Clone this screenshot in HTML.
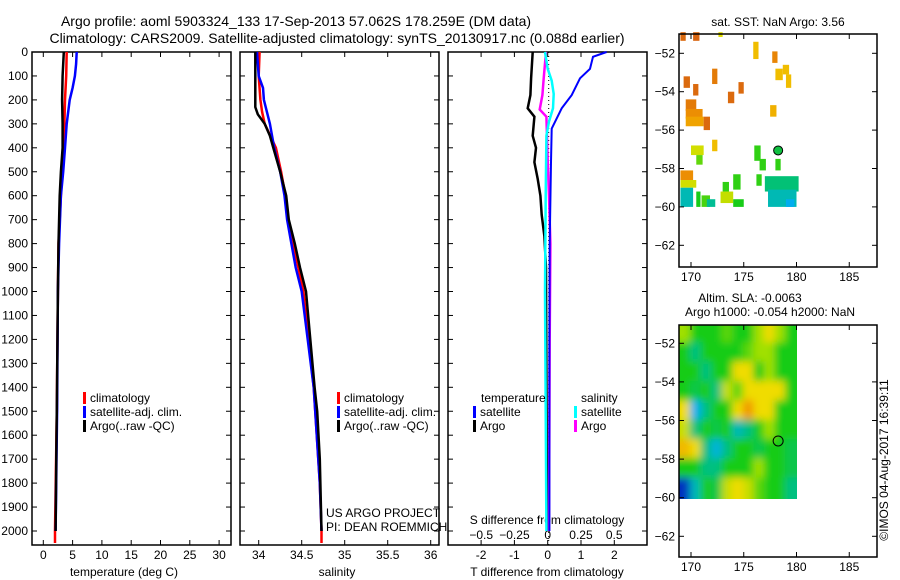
<!DOCTYPE html>
<html><head><meta charset="utf-8"><style>
html,body{margin:0;padding:0;background:#fff;}
svg{display:block;font-family:"Liberation Sans",sans-serif;}
text{font-size:12px;fill:#000;}
</style></head><body>
<svg id="chart" width="900" height="580" viewBox="0 0 900 580" xmlns="http://www.w3.org/2000/svg">
<defs>
<filter id="blur" x="0" y="0" width="1" height="1"><feGaussianBlur stdDeviation="4"/></filter>
<clipPath id="slaclip"><rect x="679" y="325" width="118" height="174"/></clipPath>
</defs>
<text x="296" y="26" text-anchor="middle" style="font-size:14px">Argo profile: aoml 5903324_133 17-Sep-2013 57.062S 178.259E (DM data)</text>
<text x="337" y="43" text-anchor="middle" style="font-size:14px">Climatology: CARS2009. Satellite-adjusted climatology: synTS_20130917.nc (0.088d earlier)</text>
<g id="g"></g>
</svg>
<script>
// ---- profile data (depth in m) ----
const tempClimDepth = [0,100,200,300,400,500,600,700,800,900,1000,1500,2000,2050];
const tempClimVal   = [4.0,3.9,3.7,3.6,3.4,3.2,3.0,2.8,2.6,2.55,2.5,2.3,2.0,2.0];
const tempSatDepth  = [0,50,100,150,200,300,400,500,600,700,800,1000,1500,2000];
const tempSatVal    = [5.7,5.6,5.4,5.0,4.5,4.0,3.7,3.4,3.0,2.85,2.7,2.5,2.35,2.1];
const tempArgoDepth = [0,100,200,300,400,500,600,700,800,1000,1500,1600,2000];
const tempArgoVal   = [3.5,3.3,3.2,3.3,3.3,3.0,2.8,2.7,2.6,2.5,2.3,2.25,2.1];

const salClimDepth = [0,100,200,250,300,400,500,600,700,800,900,1000,1400,1800,2000,2050];
const salClimVal   = [34.01,34.0,34.02,34.04,34.07,34.2,34.26,34.31,34.34,34.40,34.46,34.52,34.64,34.71,34.73,34.73];
const salSatDepth  = [0,100,150,200,300,400,500,600,700,800,900,1000,1400,1800,2000];
const salSatVal    = [33.98,34.0,34.05,34.06,34.13,34.18,34.25,34.3,34.33,34.38,34.43,34.5,34.64,34.71,34.73];
const salArgoDepth = [0,230,260,300,350,400,500,600,700,800,900,1000,1400,1500,1700,2000];
const salArgoVal   = [33.96,33.96,33.99,34.07,34.13,34.17,34.25,34.32,34.35,34.42,34.48,34.55,34.65,34.68,34.71,34.73];

const dTSatDepth  = [0,20,70,110,180,235,320,460,800,1200,2000];
const dTSatVal    = [1.77,1.36,1.27,0.97,0.72,0.42,0.12,0.1,0.06,0.05,0.05];
const dTArgoDepth = [0,110,180,235,270,350,400,460,530,600,680,770,900,2000];
const dTArgoVal   = [-0.45,-0.5,-0.52,-0.6,-0.4,-0.45,-0.35,-0.4,-0.3,-0.22,-0.18,-0.1,-0.05,-0.02];
const dSArgoDepth = [0,110,180,240,270,450,600,800,1200,2000];
const dSArgoVal   = [-0.013,-0.03,-0.04,-0.06,-0.01,0.0,0.01,0.02,0.015,0.01];
const dSSatDepth  = [0,70,120,175,235,290,350,600,1000,2000];
const dSSatVal    = [-0.02,0,0.03,0.045,0.04,0.01,-0.01,-0.015,-0.02,-0.01];

// ---- map data ----
// SST cells: [lonMin, latTop, dLon, dLat, sstValue]
const sstCells = [
 [169,-50.9,0.5,0.45,7.6],[170.2,-50.9,0.6,0.45,7.8],[172.6,-50.9,0.4,0.25,5.2],
 [175.9,-51.4,0.5,0.9,6.0],[177.7,-51.9,0.5,0.6,7.0],
 [178,-52.8,0.7,0.6,6.0],[178.7,-52.6,0.6,0.5,6.0],[179,-53.1,0.5,0.7,6.0],
 [169.3,-53.2,0.6,0.6,7.6],[170.2,-53.6,0.5,0.6,7.6],[172,-52.8,0.5,0.8,7.2],
 [174.5,-53.5,0.5,0.6,7.6],[173.5,-54,0.6,0.6,7.6],
 [169.5,-54.4,1.0,0.6,7.2],[169.5,-54.9,1.6,0.5,6.8],[169.5,-55.3,1.7,0.5,6.4],[171.2,-55.3,0.6,0.7,7.6],
 [177.5,-54.7,0.6,0.6,6.2],[172.0,-56.5,0.5,0.6,6.0],
 [170,-56.8,1.2,0.5,5.0],[170.5,-57.3,0.6,0.5,3.8],[176,-56.8,0.6,0.8,3.4],[176.5,-57.5,0.6,0.6,3.4],[178,-57.5,0.5,0.6,3.4],
 [169,-58.1,1.2,0.5,6.8],[169,-58.6,1.5,0.4,5.0],[169,-59,1.2,1.0,2.6],[170.5,-59.2,0.4,0.8,3.2],[171,-59.4,0.8,0.6,3.6],
 [174,-58.3,0.7,0.8,3.4],[173,-58.7,0.6,0.5,3.4],[172.8,-59.2,1.2,0.6,4.8],[171.5,-59.6,0.8,0.4,2.8],[174,-59.6,1.0,0.4,3.2],
 [176.2,-58.3,0.5,0.6,3.4],[177,-58.4,3.2,0.8,3.0],[177.3,-59.1,2.7,0.9,2.6],[179,-59.6,0.8,0.4,2.2]
];
// SLA grid rows lat -51..-60, cols lon 169..180 (value index 0 blue .. 6 orange)
const slaRows = [
 [4,3,3,3,3.5,3,3,4,5,4,3],
 [3,2,3,3,3,3,3.5,4,4,3,3],
 [3,3,2,3,3,5,5,3,4,3,3],
 [3,2.5,3,2,4.5,3.5,5,5,5,5,3],
 [5,1,2,3,3,5,6,5,5,3,3],
 [4.5,2,3,2.5,3,1.5,2,3,4,3,3],
 [5.5,5,2,1.2,2,3,3,2.5,3,3,2.5],
 [3,3,2,2,3,3,3,4,3,3,2.5],
 [0,1.5,3,2.5,4.5,5,4.5,3.5,3,3,2]
];
const argoLon = [178.26];
const argoLat = [-57.06];

const g = document.getElementById('g');
const NS = 'http://www.w3.org/2000/svg';
function mk(tag, at, parent){ const e=document.createElementNS(NS,tag); for(const k in at) e.setAttribute(k,at[k]); (parent||g).appendChild(e); return e; }

const yD = d => 52 + d*0.2395;
const PT = 52, PB = 545;
const panels = [
 {x0:32,x1:231,name:'temperature-panel'},
 {x0:240,x1:439,name:'salinity-panel'},
 {x0:448,x1:647,name:'difference-panel'}];
const xT = t => 43.3 + t*5.86;
const xS = s => 258.7 + (s-34)*86;
const xdT = v => 547.7 + v*33.3;
const xdS = v => 547.7 + v*133;

function line(xs, ys, fx, color, name, w){
  const pts = xs.map((d,i)=> fx(ys[i]).toFixed(1)+','+yD(d).toFixed(1)).join(' ');
  const p = mk('polyline',{points:pts,fill:'none',stroke:color,'stroke-width':w||2.5});
  
  
}

panels.forEach((p,pi)=>{
  const r = mk('rect',{x:p.x0,y:PT,width:p.x1-p.x0,height:PB-PT,fill:'none',stroke:'#000','stroke-width':1.5});
  
  
  for(let d=0; d<=2000; d+=100){
    mk('line',{x1:p.x0,x2:p.x0+5,y1:yD(d),y2:yD(d),stroke:'#000'});
    mk('line',{x1:p.x1-5,x2:p.x1,y1:yD(d),y2:yD(d),stroke:'#000'});
  }
});
for(let d=0; d<=2000; d+=100){
  const t = mk('text',{x:28,y:yD(d)+4,'text-anchor':'end'}); t.textContent=d;
  
  
}
function xticks(vals, fx, labels, yl, top){
  vals.forEach((v,i)=>{
    const x = fx(v);
    mk('line',{x1:x,x2:x,y1:PB-5,y2:PB,stroke:'#000'});
    if(top) mk('line',{x1:x,x2:x,y1:PT,y2:PT+5,stroke:'#000'});
    const t = mk('text',{x:x,y:yl,'text-anchor':'middle'}); t.textContent=labels[i];
    
    
  });
}
const tTicks=[0,5,10,15,20,25,30];
xticks(tTicks,xT,tTicks.map(String),559,true);
const sTicks=[34,34.5,35,35.5,36];
xticks(sTicks,xS,sTicks.map(String),559,true);
const dTTicks=[-2,-1,0,1,2];
xticks(dTTicks,xdT,dTTicks.map(String),559,true);
const dSTicks=[-0.5,-0.25,0,0.25,0.5];
dSTicks.forEach(v=>{const t=mk('text',{x:xdS(v),y:539,'text-anchor':'middle'});t.textContent=(v<0?'\u2212':'')+Math.abs(v);
  
  });

function txt(x,y,s,name,anchor,extra){const t=mk('text',Object.assign({x:x,y:y,'text-anchor':anchor||'start'},extra||{}));t.textContent=s;
  
  return t;}
txt(124,576,'temperature (deg C)','temperature-axis-title','middle');
txt(337,576,'salinity','salinity-axis-title','middle');
txt(547,576,'T difference from climatology','t-diff-axis-title','middle');
txt(547,524,'S difference from climatology','s-diff-axis-title','middle');

mk('line',{x1:xdT(0)+1,x2:xdT(0)+1,y1:PT,y2:PB,stroke:'#000','stroke-dasharray':'1,3'});

line(tempClimDepth,tempClimVal,xT,'#ff0000','temp-climatology-line');
line(tempSatDepth,tempSatVal,xT,'#0000ff','temp-satellite-line');
line(tempArgoDepth,tempArgoVal,xT,'#000000','temp-argo-line');
line(salClimDepth,salClimVal,xS,'#ff0000','sal-climatology-line');
line(salSatDepth,salSatVal,xS,'#0000ff','sal-satellite-line');
line(salArgoDepth,salArgoVal,xS,'#000000','sal-argo-line');
line(dTArgoDepth,dTArgoVal,xdT,'#000000','t-diff-argo-line');
line(dSArgoDepth,dSArgoVal,xdS,'#ff00ff','s-diff-argo-line');
line(dSSatDepth,dSSatVal,xdS,'#00ffff','s-diff-satellite-line');
line(dTSatDepth,dTSatVal,xdT,'#0000ff','t-diff-satellite-line',2);

function leg(x,y,c,s,name){mk('rect',{x:x,y:y-10,width:3,height:12,fill:c});txt(x+7,y,s,name);}
leg(83,402,'#ff0000','climatology','legend-climatology');
leg(83,416,'#0000ff','satellite-adj. clim.','legend-satellite');
leg(83,430,'#000000','Argo(..raw -QC)','legend-argo');
leg(337,402,'#ff0000','climatology','legend-climatology-2');
leg(337,416,'#0000ff','satellite-adj. clim.','legend-satellite-2');
leg(337,430,'#000000','Argo(..raw -QC)','legend-argo-2');
txt(481,402,'temperature','legend-temperature-heading');
txt(581,402,'salinity','legend-salinity-heading');
leg(473,416,'#0000ff','satellite','legend-t-satellite');
leg(473,430,'#000000','Argo','legend-t-argo');
leg(574,416,'#00ffff','satellite','legend-s-satellite');
leg(574,430,'#ff00ff','Argo','legend-s-argo');
txt(326,517,'US ARGO PROJECT','project-label');
txt(326,531,'PI: DEAN ROEMMICH','pi-label');

// ---- maps ----
function ramp(v){
  const cs=[[0,48,192],[0,176,240],[0,192,128],[24,204,24],[160,224,0],[240,220,0],[240,150,0],[216,100,16]];
  v=Math.max(0,Math.min(7,v)); const i=Math.min(6,Math.floor(v)), f=v-i;
  const a=cs[i],b=cs[i+1];
  return 'rgb('+a.map((c,k)=>Math.round(c+(b[k]-c)*f)).join(',')+')';
}
const sstToIdx = s => s<3.2 ? (s-1.5)*1.4 : (s<5.5 ? 3+(s-3.2)*0.9 : 5+(s-5.5)*0.9);
function mapAxes(top,name,lonX,latY){
  const X0=679,X1=877, bottom = top===34?267:557;
  const r=mk('rect',{x:X0,y:top,width:X1-X0,height:bottom-top,fill:'none',stroke:'#000','stroke-width':1.5});
  
  
  [170,175,180,185].forEach(l=>{const x=lonX(l);
    mk('line',{x1:x,x2:x,y1:bottom-5,y2:bottom,stroke:'#000'});mk('line',{x1:x,x2:x,y1:top,y2:top+5,stroke:'#000'});
    txt(x,bottom+14,String(l),name+'-lon-label','middle');});
  [-52,-54,-56,-58,-60,-62].forEach(l=>{const y=latY(l);
    mk('line',{x1:X0,x2:X0+5,y1:y,y2:y,stroke:'#000'});mk('line',{x1:X1-5,x2:X1,y1:y,y2:y,stroke:'#000'});
    txt(675,y+4,'\u2212'+Math.abs(l),name+'-lat-label','end');});
}
const lonX = l => 691 + (l-170)*10.55;
const latY1 = l => 53.3 + (-52-l)*19.2;
const latY2 = l => 343.3 + (-52-l)*19.3;

sstCells.forEach(c=>{
  const x0=lonX(c[0]), x1=lonX(c[0]+c[2]), y0=latY1(c[1]), y1=latY1(c[1]-c[3]);
  const r=mk('rect',{x:x0,y:y0,width:x1-x0,height:y1-y0,fill:ramp(sstToIdx(c[4]))});
  
  
});
mapAxes(34,'sst-map',lonX,latY1);
argoLon.forEach((lo,i)=>{
  const c=mk('circle',{cx:lonX(lo),cy:latY1(argoLat[i]),r:4.5,fill:'#10c040',stroke:'#000','stroke-width':1});
  
  
});
txt(778,26,'sat. SST: NaN Argo: 3.56','sst-map-title','middle');

const slaG = mk('g',{'clip-path':'url(#slaclip)'});
const slaB = mk('g',{filter:'url(#blur)'},slaG);
slaRows.forEach((row,ri)=>row.forEach((v,ci)=>{
  const x0=lonX(169+ci)-1, x1=lonX(170+ci)+1;
  const y0=latY2(-51-ri)-1, y1=latY2(-52-ri)+1;
  const ext = ri===slaRows.length-1 ? 10 : 0;
  const extX = ci===row.length-1 ? 10 : 0;
  const extY0 = ri===0 ? 10 : 0, extX0 = ci===0 ? 10 : 0;
  const r=mk('rect',{x:x0-extX0,y:y0-extY0,width:x1-x0+extX+extX0,height:y1-y0+ext+extY0,fill:ramp(v)},slaB);
  
  
}));
mapAxes(325,'sla-map',lonX,latY2);
argoLon.forEach((lo,i)=>{
  const c=mk('circle',{cx:lonX(lo),cy:latY2(argoLat[i]),r:5,fill:'none',stroke:'#000','stroke-width':1});
  
  
});
txt(750,302,'Altim. SLA: -0.0063','sla-map-title-1','middle');
txt(770,316,'Argo h1000: -0.054 h2000: NaN','sla-map-title-2','middle');
txt(888,460,'\u00A9IMOS 04-Aug-2017 16:39:11','imos-credit','middle',{transform:'rotate(-90 888 460)'});
</script>
</body></html>
